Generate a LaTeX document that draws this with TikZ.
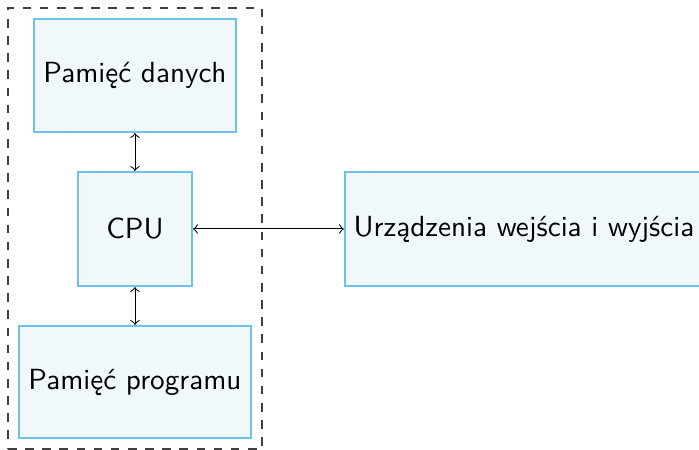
\documentclass[tikz,border=0pt]{standalone}
\usepackage{fontspec}
\definecolor{boxdraw}{RGB}{110,194,234}
\definecolor{boxfill}{RGB}{241,248,252}
\begin{document}
\begin{tikzpicture}[x=0.35pt,y=-0.35pt,
  blok/.style={draw=boxdraw,fill=boxfill,line width=0.75pt,inner sep=0pt,font=\sffamily\fontsize{10.2}{12}\selectfont},
  conn/.style={<->,line width=0.35pt}]
\useasboundingbox (0,0) rectangle (699,450);
\node[draw=black!75,dashed,line width=0.4pt,inner sep=0pt,minimum width=254*0.35pt,minimum height=441*0.35pt] (ram) at (135,228.5) {};
\node[blok,minimum width=202*0.35pt,minimum height=113*0.35pt] (pd) at (135,75.5) {Pamięć danych};
\node[blok,minimum width=114*0.35pt,minimum height=114*0.35pt] (cpu) at (135,229) {CPU};
\node[blok,minimum width=232*0.35pt,minimum height=112*0.35pt] (pp) at (135,382) {Pamięć programu};
\node[blok,minimum width=358*0.35pt,minimum height=114*0.35pt] (io) at (524,229) {Urządzenia wejścia i wyjścia};
\draw[conn] (pd) -- (cpu);
\draw[conn] (cpu) -- (pp);
\draw[conn] (cpu) -- (io);
\end{tikzpicture}
\end{document}
